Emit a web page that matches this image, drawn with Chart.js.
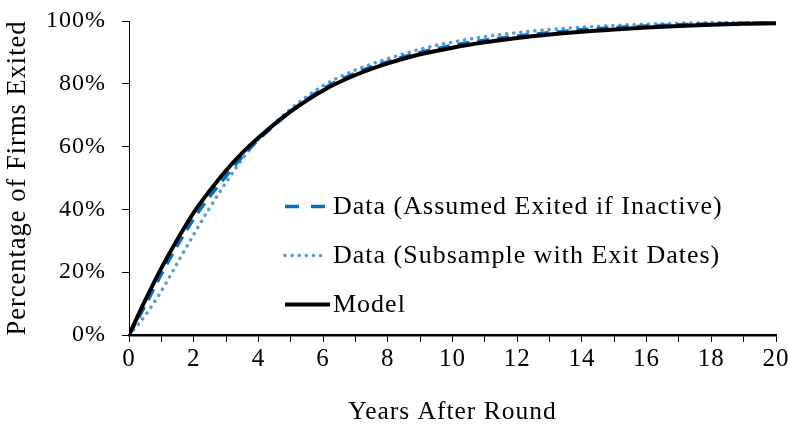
<!DOCTYPE html>
<html>
<head>
<meta charset="utf-8">
<script src="https://cdn.jsdelivr.net/npm/chart.js@4.4.0/dist/chart.umd.min.js"></script>
<style>
  html, body { margin: 0; padding: 0; background: #fff; }
  #wrap { width: 789px; height: 425px; }
</style>
</head>
<body>
<div id="wrap"><canvas id="exitChart"></canvas></div>
<script>
// years after round (x values shared by all series)
const years = [0, 0.5, 1, 1.5, 2, 2.5, 3, 3.5, 4, 5, 6, 7, 8, 9, 10, 11, 12, 13, 14, 15, 16, 17, 18, 19, 20];

// percentage of firms exited
const dataInactive = [0, 9.4, 19.4, 28.6, 37, 44.2, 50.6, 56.8, 62.2, 71.2, 78.4, 83.4, 87, 90, 92.2, 93.9, 95.2, 96.3, 97.2, 97.9, 98.4, 98.8, 99.1, 99.3, 99.4];
const dataSubsample = [0, 6.2, 14, 23, 32, 40.6, 48.6, 56, 62.3, 72, 79.4, 84.4, 88, 91, 93.3, 95, 96.3, 97.3, 98, 98.6, 99, 99.3, 99.5, 99.6, 99.6];
const model = [0, 11, 21.3, 30.5, 39, 46, 52.4, 58, 62.8, 71.2, 77.9, 82.8, 86.5, 89.4, 91.5, 93.2, 94.6, 95.7, 96.6, 97.3, 97.9, 98.4, 98.8, 99.1, 99.3];

const seriesLabels = ["Data (Assumed Exited if Inactive)", "Data (Subsample with Exit Dates)", "Model"];
const yTicks = [0, 20, 40, 60, 80, 100];

const FONT = "'Liberation Serif', 'Times New Roman', serif";

const pts = vals => vals.map((v, i) => ({ x: years[i], y: v }));

// the reference font is wider, so spread the letters a little
const spacing = {
  id: 'spacing',
  beforeUpdate(chart) { chart.ctx.letterSpacing = '1px'; },
  beforeDraw(chart) { chart.ctx.letterSpacing = '1px'; }
};

// legend drawn inside the plot, lower right
const insideLegend = {
  id: 'insideLegend',
  afterDraw(chart) {
    const ctx = chart.ctx;
    const rows = [206.5, 255.5, 304.5];
    chart.data.datasets.forEach((ds, i) => {
      const y = rows[i];
      ctx.save();
      ctx.strokeStyle = ds.borderColor;
      ctx.lineWidth = ds.borderWidth;
      ctx.lineCap = ds.borderCapStyle || 'butt';
      ctx.setLineDash(ds.legendDash || []);
      ctx.beginPath();
      ctx.moveTo(285, y);
      ctx.lineTo(ds.legendEnd || 326, y);
      ctx.stroke();
      ctx.setLineDash([]);
      ctx.fillStyle = '#000';
      ctx.font = '26px ' + FONT;
      ctx.textBaseline = 'middle';
      ctx.textAlign = 'left';
      ctx.fillText(ds.label, 333, y + 1);
      ctx.restore();
    });
  }
};

const config = {
  type: 'line',
  data: {
    datasets: [
      {
        label: seriesLabels[0],
        data: pts(dataInactive),
        borderColor: '#0070C0',
        borderWidth: 3.5,
        borderDash: [12, 8],
        legendDash: [14, 12],
        pointRadius: 0,
        cubicInterpolationMode: 'monotone',
        order: 1
      },
      {
        label: seriesLabels[1],
        data: pts(dataSubsample),
        borderColor: '#5B9BD5',
        borderWidth: 3.5,
        borderDash: [0.1, 7],
        legendDash: [0.1, 7],
        borderCapStyle: 'round',
        pointRadius: 0,
        cubicInterpolationMode: 'monotone',
        order: 2
      },
      {
        label: seriesLabels[2],
        data: pts(model),
        borderColor: '#000000',
        borderWidth: 4,
        legendEnd: 330,
        pointRadius: 0,
        cubicInterpolationMode: 'monotone',
        order: 0
      }
    ]
  },
  options: {
    responsive: false,
    animation: false,
    layout: { padding: { top: 21, right: 13, left: 0, bottom: 0 } },
    plugins: {
      legend: { display: false },
      tooltip: { enabled: false }
    },
    scales: {
      x: {
        type: 'linear',
        min: 0,
        max: 20,
        afterFit: s => { s.height = 90; s.paddingLeft = 0; s.paddingRight = 0; },
        ticks: {
          stepSize: 1,
          autoSkip: false,
          maxRotation: 0,
          padding: 2,
          color: '#000',
          font: { family: FONT, size: 25 },
          callback: v => (v % 2 === 0 ? String(v) : '')
        },
        grid: { drawOnChartArea: false, drawTicks: true, tickLength: 7, color: '#000', lineWidth: 1 },
        border: { color: '#000', width: 2.5 },
        title: {
          display: true,
          text: 'Years After Round',
          color: '#000',
          font: { family: FONT, size: 25.5, lineHeight: 1 },
          padding: { top: 0, bottom: 0 }
        }
      },
      y: {
        min: 0,
        max: 100,
        afterFit: s => { s.width = 129; s.paddingTop = 0; s.paddingBottom = 0; },
        afterBuildTicks: s => { s.ticks = yTicks.map(v => ({ value: v })); },
        ticks: {
          padding: 16,
          color: '#000',
          font: { family: FONT, size: 24 },
          callback: v => v + '%'
        },
        grid: { drawOnChartArea: false, drawTicks: true, tickLength: 7, color: '#000', lineWidth: 1 },
        border: { color: '#000', width: 1 },
        title: {
          display: true,
          text: 'Percentage of Firms Exited',
          color: '#000',
          font: { family: FONT, size: 26.5, lineHeight: 1 },
          padding: { top: 4.5, bottom: 0 }
        }
      }
    }
  },
  plugins: [spacing, insideLegend]
};

const canvas = document.getElementById('exitChart');
canvas.width = 789;
canvas.height = 425;
new Chart(canvas, config);
</script>
</body>
</html>
